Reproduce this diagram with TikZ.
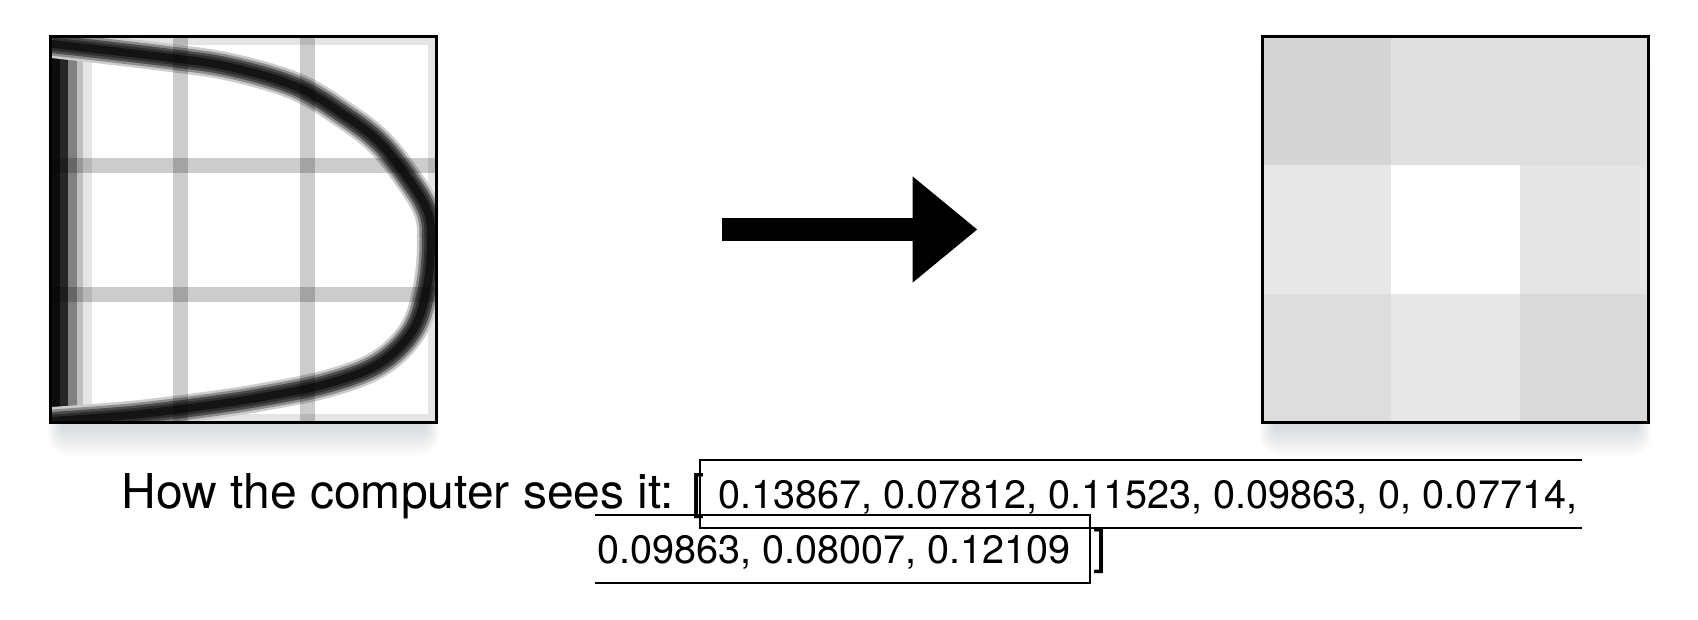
\documentclass[tikz,border=0pt]{standalone}
\usepackage{fontspec}
\setmainfont{TeX Gyre Heros}
\usetikzlibrary{arrows.meta}
\definecolor{shadowgray}{HTML}{2B3A44}

\begin{document}
\begin{tikzpicture}
	[x=0.5pt,y=-0.5pt,
	imgbox/.style={draw,line width=1.1pt,minimum size=193pt,inner sep=0pt,outer sep=0pt},
	gridline/.style={black,opacity=0.2,line width=7.5pt},
	fatarrow/.style={line width=11.5pt,-{Triangle[length=32.5pt,width=51pt]},shorten <=142.5pt,shorten >=142.5pt},
	prose/.style={font=\fontsize{24}{28}\selectfont,inner sep=0pt,anchor=base west},
	values/.style={font=\fontsize{19.8}{24}\selectfont,inner sep=0pt,anchor=base west},
	selection/.style={line width=1pt}]
	\useasboundingbox (0,0) rectangle (1698,620);
	% soft shadows under both pictures
	\foreach \k in {1,...,10}{
		\fill[shadowgray,opacity=0.02,rounded corners=\k pt] (64-1.6*\k,48) rectangle (423+1.6*\k,425+3*\k);
		\fill[shadowgray,opacity=0.02,rounded corners=\k pt] (1276-1.6*\k,48) rectangle (1635+1.6*\k,425+3*\k);
	}
	% the scanned stroke
	\begin{scope}
		\clip (50,36) rectangle (437,423);
		\fill[black!10] (50,36) rectangle (437,423);
		\fill[white] (50,45) rectangle (428,414);
		\fill[black!95] (50,36) rectangle (60,423);
		\fill[black!85] (60,36) rectangle (68,423);
		\fill[black!50] (68,36) rectangle (77,423);
		\fill[black!25] (77,36) rectangle (83,423);
		\fill[black!10] (83,45) rectangle (92,414);
		\foreach \w/\g in {14/20,11.5/45,9/70,6.5/82,4/92}
			\draw[black!\g,line width=\w pt] plot[smooth,tension=0.6] coordinates
				{(52,44) (163,57) (230,67) (297,87) (347,117) (380,143) (407,177) (427,210)
				(431,240) (427,287) (413,330) (380,363) (330,383) (263,397) (197,407) (130,415) (52,421)};
		\foreach \gx in {180,307}
			\draw[gridline] (\gx,36) -- (\gx,423);
		\foreach \gy in {165.5,294.5}
			\draw[gridline] (50,\gy) -- (437,\gy);
	\end{scope}
	% pooled cells
	\foreach \lvl [count=\n from 0] in {16.5,12,12,9.5,0,10,13.5,9.5,14.5}{
		\pgfmathtruncatemacro\cx{mod(\n,3)}
		\pgfmathtruncatemacro\cy{\n/3}
		\fill[black!\lvl] (1262+129*\cx,36+129*\cy) rectangle ++(129,129);
	}
	\node[imgbox] (pixels) at (243.5,229.5) {};
	\node[imgbox] (pooled) at (1455.5,229.5) {};
	\draw[fatarrow] (pixels) -- (pooled);
	% caption
	\node[prose] (caption) at (121,508) {How the computer sees it: [};
	\node[values] (first) at (718,508) {0.13867, 0.07812, 0.11523, 0.09863, 0, 0.07714,};
	\node[values] (second) at (597,563) {0.09863, 0.08007, 0.12109};
	\node[prose] (closing) at (1093,563) {]};
	\draw[selection] (1582,460) -- (700,460) -- (700,528) -- (1582,528);
	\draw[selection] (595,515) -- (1090,515) -- (1090,583) -- (595,583);
\end{tikzpicture}
\end{document}
